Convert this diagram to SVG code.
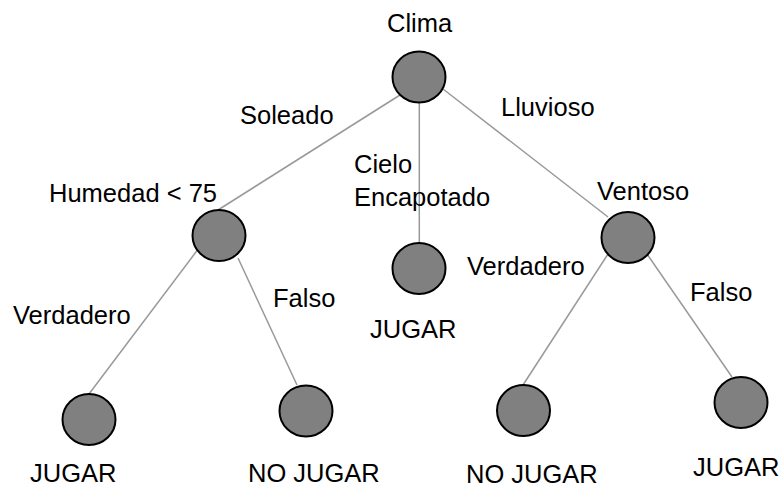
<svg xmlns="http://www.w3.org/2000/svg" width="782" height="488" viewBox="0 0 782 488">
<style>
.n{fill:#808080;stroke:#000;stroke-width:2}
.e{stroke:#999;stroke-width:1.5;fill:none}
text{font-family:"Liberation Sans",Arial,sans-serif;font-size:25.5px;fill:#000}
</style>
<rect width="782" height="488" fill="#fff"/>
<g id="edges">
<line class="e" x1="400" y1="95" x2="218" y2="210"/>
<line class="e" x1="419.3" y1="102" x2="419.3" y2="243"/>
<line class="e" x1="443" y1="89" x2="608" y2="217"/>
<line class="e" x1="202" y1="244" x2="89" y2="394"/>
<line class="e" x1="238" y1="258" x2="297" y2="385"/>
<line class="e" x1="608" y1="254" x2="523" y2="385"/>
<line class="e" x1="647" y1="254" x2="732" y2="377"/>
</g>
<g id="labels">
<text x="240" y="124">Soleado</text>
<text x="354" y="173">Cielo</text>
<text x="354" y="206">Encapotado</text>
<text x="501" y="116">Lluvioso</text>
<text x="13" y="324">Verdadero</text>
<text x="273" y="307">Falso</text>
<text x="467" y="275">Verdadero</text>
<text x="690" y="301">Falso</text>
</g>
<g id="clima"><ellipse class="n" cx="419" cy="77" rx="26.5" ry="25.5"/><text x="387" y="32">Clima</text></g>
<g id="humedad"><ellipse class="n" cx="219" cy="235.5" rx="26.5" ry="25.5"/><text x="49" y="202">Humedad &lt; 75</text></g>
<g id="jugar-centro"><ellipse class="n" cx="419" cy="268.5" rx="26.5" ry="25.5"/><text x="370" y="338">JUGAR</text></g>
<g id="ventoso"><ellipse class="n" cx="628" cy="237.5" rx="26.5" ry="25.5"/><text x="597" y="200">Ventoso</text></g>
<g id="jugar-izq"><ellipse class="n" cx="89" cy="419.5" rx="26.5" ry="25.5"/><text x="30" y="482">JUGAR</text></g>
<g id="nojugar-izq"><ellipse class="n" cx="306" cy="411" rx="26.5" ry="25.5"/><text x="248" y="482">NO JUGAR</text></g>
<g id="nojugar-der"><ellipse class="n" cx="523.5" cy="410.5" rx="26.5" ry="25.5"/><text x="466" y="483">NO JUGAR</text></g>
<g id="jugar-der"><ellipse class="n" cx="741" cy="402.5" rx="26.5" ry="25.5"/><text x="693" y="476">JUGAR</text></g>
</svg>
